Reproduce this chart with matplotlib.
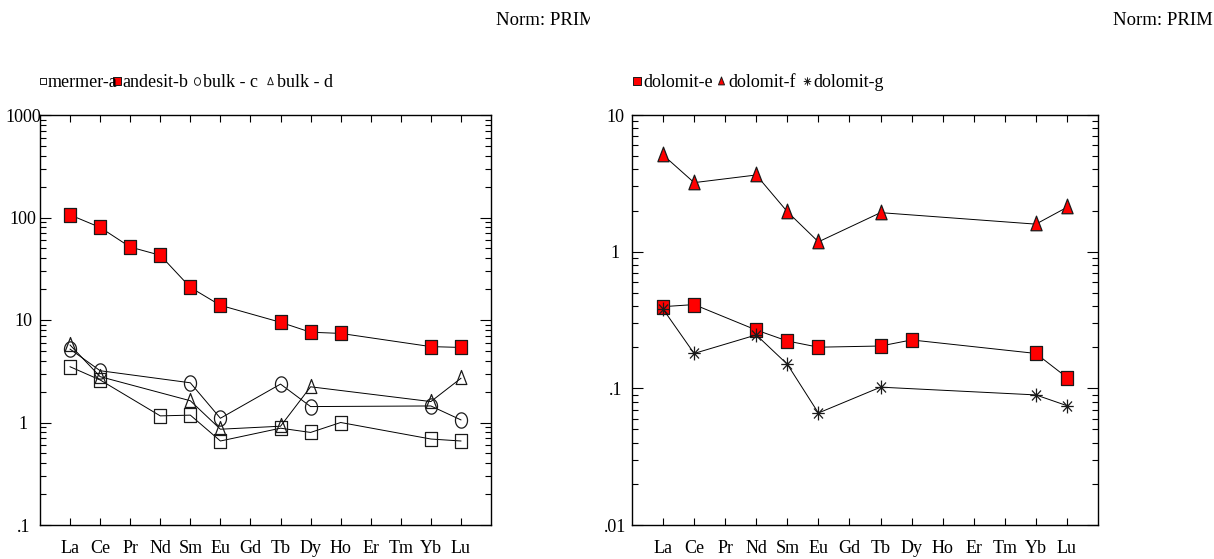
import numpy as np
import matplotlib
matplotlib.use("Agg")
import matplotlib.pyplot as plt
from matplotlib.path import Path
from matplotlib.lines import Line2D
from matplotlib.transforms import Bbox, TransformedBbox
from matplotlib.ticker import FixedLocator, FixedFormatter, LogLocator, NullFormatter

plt.rcParams['font.family'] = ['Liberation Serif', 'DejaVu Serif']

# REE spider diagram data (normalised to primitive mantle)
elements = ['La', 'Ce', 'Pr', 'Nd', 'Sm', 'Eu', 'Gd', 'Tb', 'Dy', 'Ho', 'Er', 'Tm', 'Yb', 'Lu']
nan = np.nan

mermer_a = [3.5, 2.6, nan, 1.16, 1.18, 0.66, nan, 0.88, 0.80, 1.0, nan, nan, 0.69, 0.66]
andesit_b = [106, 80, 51.5, 42.8, 20.8, 13.9, nan, 9.5, 7.6, 7.4, nan, nan, 5.5, 5.4]
bulk_c = [5.2, 3.2, nan, nan, 2.44, 1.1, nan, 2.37, 1.43, nan, nan, nan, 1.45, 1.06]
bulk_d = [5.7, 2.8, nan, nan, 1.63, 0.86, nan, 0.92, 2.23, nan, nan, nan, 1.6, 2.7]

dolomit_e = [0.396, 0.41, nan, 0.267, 0.222, 0.2, nan, 0.204, 0.226, nan, nan, nan, 0.18, 0.12]
dolomit_f = [5.1, 3.2, nan, 3.64, 1.96, 1.18, nan, 1.93, nan, nan, nan, nan, 1.59, 2.11]
dolomit_g = [0.38, 0.18, nan, 0.246, 0.15, 0.066, nan, 0.102, nan, nan, nan, nan, 0.0895, 0.0747]

left_yticks = [0.1, 1, 10, 100, 1000]
left_ylabels = ['.1', '1', '10', '100', '1000']
right_yticks = [0.01, 0.1, 1, 10]
right_ylabels = ['.01', '.1', '1', '10']

W, H = 1214, 559


def marker_path(kind, sx=1.0):
    """Slightly squeezed marker shapes (the original is stretched vertically)."""
    if kind == 'square':
        v = [(-sx, -1), (sx, -1), (sx, 1), (-sx, 1), (-sx, -1)]
        return Path(v, closed=True)
    if kind == 'circle':
        t = np.linspace(0, 2 * np.pi, 49)
        v = np.column_stack([sx * np.cos(t), np.sin(t)])
        return Path(v, closed=True)
    if kind == 'triangle':
        v = [(0, 1), (-sx, -0.75), (sx, -0.75), (0, 1)]
        return Path(v, closed=True)
    if kind == 'asterisk':
        d = 0.72
        v = [(0, -1), (0, 1), (-sx, 0), (sx, 0), (-d * sx, -d), (d * sx, d), (-d * sx, d), (d * sx, -d)]
        c = [Path.MOVETO, Path.LINETO] * 4
        return Path(v, c)


SQ = marker_path('square', 0.85)
CI = marker_path('circle', 0.79)
TR = marker_path('triangle', 0.67)
AS = marker_path('asterisk', 0.9)

left_series = [
    (mermer_a, SQ, 'none', 10.5),
    (andesit_b, SQ, 'red', 10.5),
    (bulk_c, CI, 'none', 11),
    (bulk_d, TR, 'none', 11.5),
]
right_series = [
    (dolomit_e, SQ, 'red', 10.5),
    (dolomit_f, TR, 'red', 12),
    (dolomit_g, AS, 'none', 10),
]

fig = plt.figure(figsize=(W / 100, H / 100), dpi=100)
ax1 = fig.add_axes([40 / W, 34 / H, 451 / W, 410 / H])
ax2 = fig.add_axes([632 / W, 34 / H, 466 / W, 410 / H])


def draw_panel(ax, series, yticks, ylabels):
    x = np.arange(len(elements))
    for vals, mk, fc, ms in series:
        v = np.array(vals, dtype=float)
        ok = ~np.isnan(v)
        ax.plot(x[ok], v[ok], color='black', linewidth=0.7, marker=mk,
                markersize=ms, markerfacecolor=fc, markeredgecolor='#1a1a1a',
                markeredgewidth=0.9)
    ax.set_yscale('log')
    ax.set_ylim(yticks[0], yticks[-1])
    ax.set_xlim(-1, 14)
    ax.xaxis.set_major_locator(FixedLocator(x))
    ax.set_xticklabels(elements)
    ax.yaxis.set_major_locator(FixedLocator(yticks))
    ax.yaxis.set_major_formatter(FixedFormatter(ylabels))
    ax.yaxis.set_minor_locator(LogLocator(base=10, subs=np.arange(2, 10)))
    ax.yaxis.set_minor_formatter(NullFormatter())
    ax.tick_params(axis='x', which='major', direction='in', top=True, bottom=True,
                   length=5, width=0.8, pad=10.5, labelsize=13)
    ax.tick_params(axis='y', which='major', direction='in', left=True, right=True,
                   length=8, width=0.8, pad=12, labelsize=13)
    ax.tick_params(axis='y', which='minor', direction='in', left=True, right=True,
                   length=4.5, width=0.8)
    for lab in ax.get_yticklabels():
        lab.set_horizontalalignment('center')
    for s in ax.spines.values():
        s.set_linewidth(1.0)


draw_panel(ax1, left_series, left_yticks, left_ylabels)
draw_panel(ax2, right_series, right_yticks, right_ylabels)


def legend_entry(xm, xt, label, mk, fc, ms, y=81, yb=87):
    fig.add_artist(Line2D([xm / W], [1 - y / H], transform=fig.transFigure,
                          marker=mk, markersize=ms, markerfacecolor=fc,
                          markeredgecolor='#1a1a1a', markeredgewidth=0.7,
                          linestyle='none'))
    fig.text(xt / W, 1 - yb / H, label, fontsize=13, ha='left', va='baseline')


legend_entry(43, 48, 'mermer-a', SQ, 'none', 5)
legend_entry(117, 122, 'andesit-b', SQ, 'red', 6)
legend_entry(197, 203, 'bulk - c', CI, 'none', 5.5)
legend_entry(270, 277, 'bulk - d', TR, 'none', 6)

legend_entry(637, 643, 'dolomit-e', SQ, 'red', 6)
legend_entry(721, 728, 'dolomit-f', TR, 'red', 6.5)
legend_entry(807, 813, 'dolomit-g', AS, 'none', 6)

# "Norm" captions; the left one is cut off by the neighbouring panel
t1 = fig.text(496 / W, 1 - 25 / H, 'Norm: PRIM', fontsize=13.5, ha='left', va='baseline')
t1.set_clip_on(True)
t1.set_clip_box(TransformedBbox(Bbox([[0, 0], [590 / W, 1]]), fig.transFigure))
fig.text(1113 / W, 1 - 25 / H, 'Norm: PRIM', fontsize=13.5, ha='left', va='baseline')

fig.savefig('out.png', dpi=100)
